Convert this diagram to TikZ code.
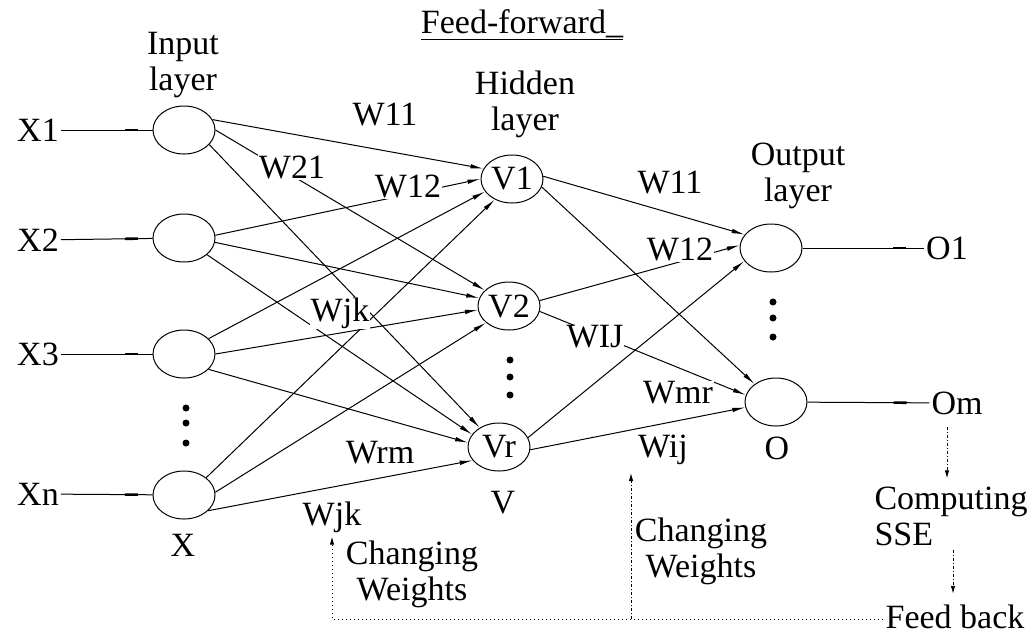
\documentclass[tikz,border=0pt]{standalone}
\usepackage{fontspec}
\setmainfont{Liberation Serif}
\usetikzlibrary{shapes.geometric,arrows.meta,decorations.markings}

\begin{document}
\begin{tikzpicture}[x=1pt,y=-1pt,
  every node/.style={font=\fontsize{34}{36}\selectfont, inner sep=2pt},
  neuron/.style={draw, ellipse, minimum width=62pt, minimum height=48pt, inner sep=0pt, line width=1pt},
  link/.style={line width=1pt, -{Latex[length=13pt,width=4.5pt]}},
  plainlink/.style={line width=1pt},
  wlab/.style={fill=white, inner sep=1pt},
  iomark/.style={postaction={decorate}, decoration={markings,
      mark=at position #1 with {\draw[line width=2.6pt] (-6.5pt,0) -- (6.5pt,0);}}},
  fbdot/.style={line width=0.9pt, dash pattern=on 1.2pt off 2.8pt},
  fbdash/.style={line width=0.9pt, dash pattern=on 3pt off 2pt on 1pt off 2pt},
  fbtip/.style={-{Latex[length=8pt,width=4.5pt]}},
  vdot/.style={fill=black}
]
\useasboundingbox (0,0) rectangle (1035,635);

% neurons
\node[neuron] (x1) at (184,130) {};
\node[neuron] (x2) at (184,238) {};
\node[neuron] (x3) at (184,354) {};
\node[neuron] (xn) at (184,495) {};
\node[neuron] (v1) at (512,179) {V1};
\node[neuron] (v2) at (509,306) {V2};
\node[neuron] (vr) at (499,447) {Vr};
\node[neuron] (o1) at (771,248) {};
\node[neuron] (om) at (776,402) {};

% inputs and outputs
\node (lx1) at (38,130) {X1};
\node (lx2) at (38,240) {X2};
\node (lx3) at (38,354) {X3};
\node (lxn) at (38,494) {Xn};
\node (lo1) at (947,248) {O1};
\node (lom) at (957,403) {Om};

% titles
\node[align=center] (tin) at (183,65) {Input\\layer};
\node[align=center] (thid) at (525,104) {Hidden\\layer};
\node[align=center] (tout) at (798,176) {Output\\layer};
\node (tff) at (522,25) {\underline{Feed-forward\_}};
\node (nx) at (183,545) {X};
\node (nv) at (503,503) {V};
\node (no) at (777,448) {O};

% input -> hidden
\draw[link] (x1.20) -- (v1.160);
\draw[link] (x1.0) -- (v2.147);
\draw[link] (x1.-30) -- (vr.135);
\draw[link] (x2.5) -- (v1.180);
\draw[link] (x2.-8) -- (v2.165);
\draw[link] (x2.-36) -- (vr.155);
\draw[link] (x3.32) -- (v1.205);
\draw[link] (x3.0) -- (v2.187);
\draw[link] (x3.-32) -- (vr.172);
\draw[link] (xn.38) -- (v1.230);
\draw[link] (xn.5) -- (v2.216);
\draw[link] (xn.-33) -- (vr.207);

% hidden -> output
\draw[link] (v1.5) -- (o1.153);
\draw[link] (v1.-15) -- (om.140);
\draw[link] (v2.10) -- (o1.175);
\draw[link] (v2.-10) -- (om.167);
\draw[link] (vr.18) -- (o1.206);
\draw[link] (vr.-5) -- (om.190);

% signal lines in and out
\draw[plainlink, iomark=0.77] (lx1) -- (x1);
\draw[plainlink, iomark=0.77] (lx2) -- (x2);
\draw[plainlink, iomark=0.77] (lx3) -- (x3);
\draw[plainlink, iomark=0.77] (lxn) -- (xn);
\draw[plainlink, iomark=0.8] (o1) -- (lo1);
\draw[plainlink, iomark=0.76] (om) -- (lom);

% weight labels
\node[wlab] (w11a) at (385,115) {W11};
\node[wlab] (w21) at (292,167) {W21};
\node[wlab] (w12a) at (408,186) {W12};
\node[wlab] (wjka) at (340,313) {Wjk};
\node[wlab] (wrm) at (380,453) {Wrm};
\node[wlab] (wjkb) at (332,517) {Wjk};
\node[wlab] (w11b) at (670,183) {W11};
\node[wlab] (w12b) at (680,249) {W12};
\node[wlab] (wija) at (595,337) {WIJ};
\node[wlab] (wmr) at (678,393) {Wmr};
\node[wlab] (wijb) at (663,450) {Wij};

% vertical ellipses
\foreach \yy in {408,423,443} \fill[vdot] (186,\yy) circle (3.5pt);
\foreach \yy in {360,377,395} \fill[vdot] (510,\yy) circle (3.5pt);
\foreach \yy in {302,318,337} \fill[vdot] (773,\yy) circle (3.5pt);

% error computation and feedback
\node[align=left] (cs) at (951,516) {Computing\\SSE};
\node[align=center] (cw1) at (412,574) {Changing\\Weights};
\node[align=center] (cw2) at (701,551) {Changing\\Weights};
\node (fb) at (955,617) {Feed back};

\draw[fbdash, fbtip, shorten <=10pt, shorten >=6pt] ([xshift=-10pt]lom.south) -- ([xshift=-4pt]cs.north);
\draw[fbdash, fbtip, shorten <=2pt, shorten >=9pt] ([xshift=2pt]cs.south) -- ([xshift=-2pt]fb.north);
\draw[fbdot, fbtip, shorten >=3pt] ([yshift=-2pt]fb.west) -| (wjkb.south);
\coordinate (c2) at (631,619);
\coordinate (t2) at (631,473);
\draw[fbdash, fbtip] (c2) -- (t2);
\end{tikzpicture}
\end{document}
